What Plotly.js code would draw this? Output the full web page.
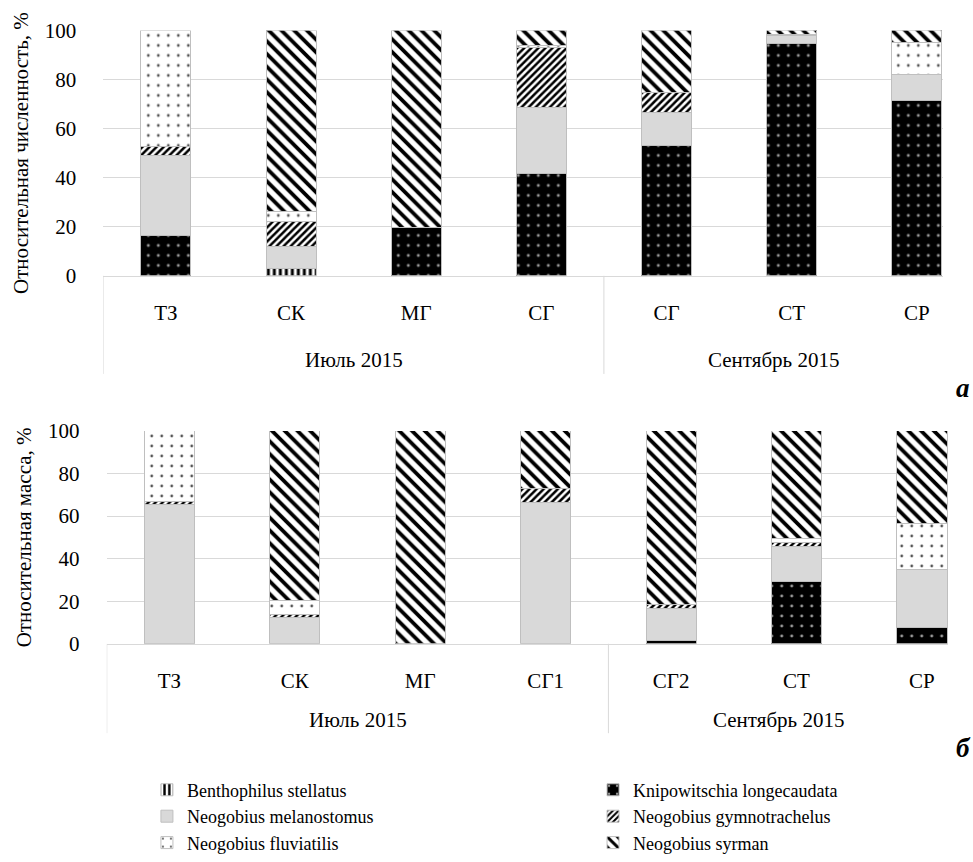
<!DOCTYPE html>
<html>
<head>
<meta charset="utf-8">
<script src="https://cdn.plot.ly/plotly-3.0.1.min.js"></script>
<style>
html,body{margin:0;padding:0;background:#fff;}
#chart{width:973px;height:862px;}
</style>
</head>
<body>
<div id="chart"></div>
<script>
// ---- data ----
const groupsTop = ['Июль 2015','Июль 2015','Июль 2015','Июль 2015','Сентябрь 2015','Сентябрь 2015','Сентябрь 2015'];
const sitesTop = ['ТЗ','СК','МГ','СГ','СГ','СТ','СР'];
const groupsBottom = ['Июль 2015','Июль 2015','Июль 2015','Июль 2015','Сентябрь 2015','Сентябрь 2015','Сентябрь 2015'];
const sitesBottom = ['ТЗ','СК','МГ','СГ1','СГ2','СТ','СР'];

const species = ['Benthophilus stellatus','Knipowitschia longecaudata','Neogobius melanostomus','Neogobius gymnotrachelus','Neogobius fluviatilis','Neogobius syrman'];

// relative abundance, % (panel a)
const abundBenthophilus = [0, 3.1, 0, 0, 0, 0, 0];
const abundKnipowitschia = [16.4, 0, 19.7, 41.5, 53.0, 94.7, 71.5];
const abundMelanostomus = [32.6, 9.0, 0, 27.3, 13.5, 3.1, 10.6];
const abundGymnotrachelus = [3.6, 9.9, 0, 24.1, 8.1, 0, 0];
const abundFluviatilis = [47.4, 4.3, 0, 1.0, 0, 0.6, 13.0];
const abundSyrman = [0, 73.7, 80.3, 6.1, 25.4, 1.6, 4.9];

// relative mass, % (panel б)
const massBenthophilus = [0, 0, 0, 0, 0, 0, 0];
const massKnipowitschia = [0, 0, 0, 0, 1.5, 29.5, 7.5];
const massMelanostomus = [65.3, 12.4, 0, 66.4, 15.1, 16.4, 27.2];
const massGymnotrachelus = [1.6, 1.6, 0, 6.7, 2.1, 1.5, 0];
const massFluviatilis = [33.1, 6.5, 0, 0, 0, 2.1, 22.0];
const massSyrman = [0, 79.5, 100, 26.9, 81.3, 50.5, 43.3];

const yTicks = [0, 20, 40, 60, 80, 100];

// ---- styles ----
const styles = [
  {color:'#ffffff', pattern:{shape:'|', fgcolor:'#000000', bgcolor:'#ffffff', size:6, solidity:0.5}, legend:'legend'},
  {color:'#000000', pattern:{shape:'.', fgcolor:'#9a9a9a', bgcolor:'#000000', size:10, solidity:0.07}, legend:'legend2'},
  {color:'#d9d9d9', pattern:null, legend:'legend'},
  {color:'#ffffff', pattern:{shape:'/', fgcolor:'#000000', bgcolor:'#ffffff', size:5, solidity:0.5}, legend:'legend2'},
  {color:'#ffffff', pattern:{shape:'.', fgcolor:'#555555', bgcolor:'#ffffff', size:10, solidity:0.06}, legend:'legend'},
  {color:'#ffffff', pattern:{shape:'\\', fgcolor:'#000000', bgcolor:'#ffffff', size:9, solidity:0.42}, legend:'legend2'}
];

const topSeries = [abundBenthophilus, abundKnipowitschia, abundMelanostomus, abundGymnotrachelus, abundFluviatilis, abundSyrman];
const botSeries = [massBenthophilus, massKnipowitschia, massMelanostomus, massGymnotrachelus, massFluviatilis, massSyrman];

const font = 'Liberation Serif, Times New Roman, serif';
const xRange = [-0.5, 6.21];

// unique category keys (group + site); labels shown are the site names
const keysTop = sitesTop.map((s, i) => groupsTop[i] + '|' + s);
const keysBottom = sitesBottom.map((s, i) => groupsBottom[i] + '|' + s);

const traces = [];
function mk(vals, i, xa, ya, keys, showleg) {
  const s = styles[i];
  const marker = {color: s.color, line:{color:'#bfbfbf', width:1}};
  if (s.pattern) marker.pattern = Object.assign({fillmode:'replace'}, s.pattern);
  return {
    type:'bar', name: species[i], x: keys, y: vals.map(v => v === 0 ? null : v),
    xaxis: xa, yaxis: ya, width:0.4, marker: marker,
    showlegend: showleg, legend: s.legend, hoverinfo:'skip'
  };
}
topSeries.forEach((v,i) => traces.push(mk(v, i, 'x', 'y', keysTop, true)));
botSeries.forEach((v,i) => traces.push(mk(v, i, 'x2', 'y2', keysBottom, false)));

function xax(domain, anchor, keys, sites) {
  return {
    type:'category', domain: domain, anchor: anchor, range: xRange,
    categoryorder:'array', categoryarray: keys, tickvals: keys, ticktext: sites,
    showline:true, linecolor:'#d9d9d9', linewidth:1, mirror:false,
    showgrid:false, zeroline:false, ticks:'',
    tickfont:{family:font, size:21, color:'#000'}, ticklabelstandoff: 18, fixedrange:true
  };
}
function yax(domain, anchor, title) {
  return {
    domain: domain, anchor: anchor, range:[0, 100], tickvals: yTicks, ticktext: yTicks.map(String),
    showgrid:true, gridcolor:'#d9d9d9', gridwidth:1, zeroline:false, showline:false,
    ticks:'outside', ticklen:22, tickcolor:'rgba(0,0,0,0)',
    tickfont:{family:font, size:21, color:'#000'},
    title:{text:title, font:{family:font, size:21, color:'#000'}, standoff:10}, fixedrange:true
  };
}

// group annotations + dividers computed from group membership
function groupDecor(groups, xref, yref, labelY, divLen) {
  const ann = [], shp = [];
  const names = [...new Set(groups)];
  names.forEach(g => {
    const first = groups.indexOf(g), last = groups.lastIndexOf(g);
    const lo = Math.max(first - 0.5, xRange[0]);
    const hi = Math.min(last + 0.5, xRange[1]);
    ann.push({text: g, xref: xref, yref: yref + ' domain', x: (lo + hi) / 2, y: labelY,
              xanchor:'center', yanchor:'middle', showarrow:false, font:{family:font, size:21, color:'#000'}});
    if (first - 0.5 >= xRange[0]) {
      shp.push({type:'line', xref: xref, yref: yref + ' domain', x0: first - 0.5, x1: first - 0.5,
                y0: 0, y1: divLen, line:{color:'#d9d9d9', width:1}});
    }
  });
  return {ann, shp};
}
const dTop = groupDecor(groupsTop, 'x', 'y', -0.345, -0.40);
const dBot = groupDecor(groupsBottom, 'x2', 'y2', -0.36, -0.42);

const layout = {
  width:973, height:862, margin:{l:0, r:0, t:0, b:0},
  paper_bgcolor:'#fff', plot_bgcolor:'#fff', barmode:'stack',
  font:{family:font, size:20, color:'#000'},
  xaxis: xax([0.1062, 0.9692], 'y', keysTop, sitesTop),
  yaxis: yax([0.6778, 0.9644], 'x', 'Относительная численность, %'),
  xaxis2: xax([0.1097, 0.9746], 'y2', keysBottom, sitesBottom),
  yaxis2: yax([0.2479, 0.4965], 'x2', 'Относительная масса, %'),
  legend:{x:0.151, y:1 - 777/862, xanchor:'left', yanchor:'top', orientation:'v', traceorder:'normal',
          font:{family:font, size:18, color:'#000'}, tracegroupgap:0, itemwidth:30, bgcolor:'rgba(0,0,0,0)'},
  legend2:{x:0.6095, y:1 - 777/862, xanchor:'left', yanchor:'top', orientation:'v', traceorder:'normal',
          font:{family:font, size:18, color:'#000'}, tracegroupgap:0, itemwidth:30, bgcolor:'rgba(0,0,0,0)'},
  shapes: dTop.shp.concat(dBot.shp),
  annotations: dTop.ann.concat(dBot.ann).concat([
    {text:'<b><i>a</i></b>', xref:'paper', yref:'paper', x:0.99, y:1-391/862, xanchor:'center', yanchor:'middle', showarrow:false, font:{family:font, size:27, color:'#000'}},
    {text:'<b><i>б</i></b>', xref:'paper', yref:'paper', x:0.99, y:1-753/862, xanchor:'center', yanchor:'middle', showarrow:false, font:{family:font, size:27, color:'#000'}}
  ])
};

Plotly.newPlot('chart', traces, layout, {displayModeBar:false, staticPlot:true});
</script>
</body>
</html>
